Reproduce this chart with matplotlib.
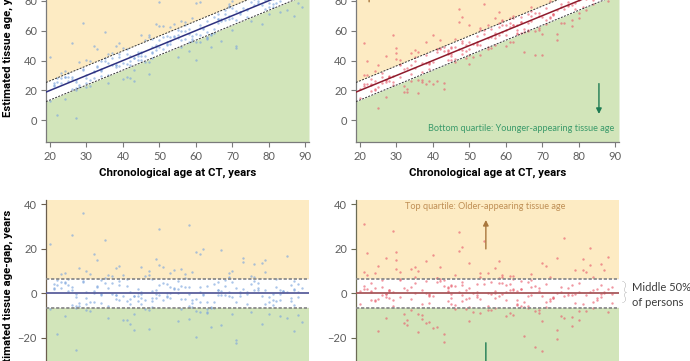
import matplotlib

matplotlib.use("Agg")
import matplotlib.pyplot as plt
import numpy as np

blue_age = [
    21, 34, 57, 72, 45, 88, 29, 63, 50, 39, 81, 24, 67, 55, 42, 76,
    31, 85, 60, 47, 23, 70, 36, 53, 79, 27, 64, 41, 58, 86, 33, 74,
    49, 22, 68, 38, 82, 56, 44, 61, 26, 77, 52, 35, 89, 65, 30, 48,
    71, 40, 84, 59, 25, 73, 46, 62, 37, 80, 54, 28, 69, 43, 87, 51,
    32, 75, 58, 20, 66, 45, 83, 39, 56, 24, 78, 63, 34, 50, 71, 87,
    42, 29, 67, 53, 80, 36, 60, 22, 74, 48, 85, 31, 57, 44, 69, 26,
    62, 38, 81, 52, 27, 76, 47, 65, 33, 88, 55, 41, 72, 23, 59, 79,
    46, 68, 30, 84, 51, 37, 64, 25, 77, 43, 61, 35, 86, 54, 28, 70,
    49, 82, 40, 66, 21, 58, 75, 32, 63, 45, 89, 27, 53, 71, 39, 60,
    36, 78, 50, 24, 67, 44, 83, 56, 30, 73, 42, 61, 87, 48, 34, 69,
    25, 48, 66, 83, 37, 59, 71, 30, 54, 79, 42, 22, 63, 87, 45, 34,
    68, 51, 27, 76, 40, 58, 85, 32, 61, 47, 73, 20, 56, 81, 38, 65,
    29, 52, 78, 44, 69, 24, 87, 57, 35, 62, 49, 83, 26, 70, 41, 55,
    80, 33, 64, 46, 74, 21, 58, 88, 39, 67, 50, 28, 76, 43, 60, 84,
    31, 53, 72, 36, 86, 47, 23, 66, 57, 41, 79, 30, 63, 52, 75, 27,
    45, 82, 34, 61, 48, 70, 38, 88, 26, 55, 69, 43, 77, 32, 59, 49,
]
blue_gap = [
    2.1, -4.3, 8.5, -1.2, 0.6, -9.8, 36.0, 3.4, -0.8, 12.4, -5.1, 4.7, -14.2, 1.9, -2.6, 7.3,
    -3.9, 0.4, 18.6, -7.7, 5.2, -1.5, -11.3, 2.8, 9.6, -0.3, -6.0, 3.1, 30.5, -2.2, 14.9, -4.8,
    1.3, -18.4, 5.9, -0.9, -3.4, 10.7, 0.2, -8.6, 26.0, 2.5, -1.8, 6.8, -12.9, 4.0, -4.9, 1.1,
    -22.5, 8.1, 0.7, -2.9, 3.8, 15.7, -6.9, -0.5, 4.4, -9.1, 2.0, 11.2, -1.1, -16.6, 5.5, -3.2,
    0.9, 7.9, -5.6, 22.3, 1.6, -0.2, -10.4, 3.6, -2.4, 5.1, 13.5, -7.2, 0.1, 29.0, -3.7, 1.8,
    -13.8, 4.9, -0.6, 9.2, -4.1, 2.3, -19.8, 6.1, 0.5, -2.0, 16.8, -8.0, 3.0, -1.3, 7.0, -5.3,
    20.1, -0.7, -3.0, 4.2, -25.4, 1.4, 10.0, -6.4, 2.7, -1.6, 5.7, -11.9, 0.3, 8.8, -4.5, 15.0,
    -2.8, 3.3, -7.5, 1.0, 12.0, -0.1, -15.3, 6.5, 4.5, -9.4, 0.8, 24.0, -3.5, 2.2, -5.8, 9.9,
    -1.9, 6.3, -12.2, 1.5, 4.1, -0.4, -8.3, 17.5, -4.0, 11.8, 2.6, -6.6, 0.0, -21.0, 5.3, -2.5,
    8.3, -1.0, 3.9, -10.0, 19.5, -3.6, 1.7, -7.0, 0.4, 14.0, -5.0, 2.9, -17.1, 6.6, -0.9, 9.0,
    1.2, -3.3, 5.0, -0.4, 7.9, -6.2, 2.4, -1.9, 10.3, -4.6, 0.8, 3.9, -8.8, 1.6, -2.3, 6.0,
    -0.9, 4.5, -5.7, 13.2, -1.4, 2.9, -10.9, 0.3, -3.8, 8.4, 1.9, -7.1, 3.4, -0.2, 11.5, -4.1,
    5.6, -1.1, -13.6, 2.0, 0.6, 9.0, -5.2, -2.6, 4.8, -0.7, 15.2, -3.0, 1.4, -9.5, 6.5, 0.0,
    -1.7, 3.2, -6.8, 7.7, -0.5, 2.6, -11.7, 4.2, -2.9, 0.9, 12.8, -4.4, 5.3, -1.3, -7.9, 1.0,
    8.7, -2.1, 0.4, -5.5, 3.6, -15.9, 2.2, -0.8, 6.9, -3.6, 1.7, 10.1, -8.2, 0.2, 4.0, -1.6,
    -4.9, 2.8, -0.3, 17.8, -6.0, 5.1, -2.4, 0.7, 3.0, -12.4, 7.4, -1.0, 1.3, -3.9, 9.4, -0.1,
]
red_age = [
    23, 61, 44, 78, 35, 52, 86, 29, 67, 40, 57, 21, 73, 48, 82, 33,
    59, 26, 70, 45, 88, 37, 63, 51, 30, 76, 42, 65, 24, 84, 55, 39,
    71, 47, 20, 62, 80, 34, 58, 27, 75, 43, 68, 53, 31, 87, 46, 64,
    22, 79, 38, 56, 72, 28, 83, 49, 66, 36, 60, 25, 77, 41, 89, 54,
    32, 69, 45, 81, 50, 23, 74, 37, 62, 85, 29, 57, 42, 70, 34, 78,
    47, 26, 64, 53, 88, 39, 59, 21, 72, 44, 80, 31, 66, 50, 27, 75,
    36, 61, 84, 48, 24, 69, 55, 40, 86, 33, 58, 73, 43, 22, 79, 63,
    52, 30, 68, 46, 82, 38, 60, 28, 76, 49, 35, 65, 87, 41, 54, 25,
    71, 57, 32, 83, 45, 67, 20, 74, 39, 62, 50, 89, 27, 56, 78, 43,
    64, 34, 81, 48, 70, 23, 59, 85, 37, 52, 29, 66, 44, 77, 31, 61,
    28, 53, 71, 39, 84, 46, 62, 24, 77, 35, 58, 88, 42, 67, 21, 50,
    73, 31, 60, 45, 82, 27, 55, 69, 38, 86, 48, 64, 23, 75, 41, 57,
    80, 33, 66, 52, 26, 71, 44, 87, 36, 59, 78, 49, 22, 63, 85, 40,
    54, 29, 74, 47, 68, 34, 81, 56, 25, 61, 43, 76, 51, 30, 65, 89,
    39, 72, 46, 83, 58, 24, 70, 37, 62, 27, 79, 53, 44, 86, 32, 67,
    48, 21, 74, 55, 35, 60, 41, 80, 57, 28, 69, 50, 84, 38, 63, 45,
]
red_gap = [
    -3.1, 7.6, 1.2, -10.8, 4.4, -0.7, 13.1, -5.5, 2.9, -15.6, 0.3, 9.4, -2.3, 21.0, -7.9, 1.7,
    -0.2, 5.8, -12.5, 3.5, 16.2, -4.6, 0.9, -8.4, 11.0, -1.4, 6.2, -19.2, 2.4, -3.8, 8.9, -0.6,
    -6.3, 27.5, 1.0, -9.7, 4.6, -2.7, 14.4, -11.1, 0.6, 3.2, -24.0, 7.1, -1.7, 10.3, -5.2, 2.0,
    18.0, -0.4, -13.4, 5.0, -3.3, 1.3, 12.7, -7.1, -1.0, 9.8, 3.7, -16.9, 0.2, 6.7, -4.2, 23.5,
    2.6, -8.9, -0.5, 15.3, -2.1, 4.8, -20.6, 1.5, 7.8, -3.0, 0.8, -6.7, 11.6, -1.2, 3.0, -14.7,
    19.0, -0.9, 5.4, -9.0, 1.9, -4.4, 8.0, 31.0, -2.6, 0.5, -11.8, 6.0, -5.9, 13.8, -0.3, 2.7,
    -17.5, 4.3, 1.4, -3.5, 9.1, -7.4, 0.0, 17.0, 3.6, -12.0, 6.9, -1.6, -22.0, 2.1, 10.6, -4.7,
    0.7, 14.8, -8.1, 3.3, -0.8, 5.6, -10.3, 1.6, 25.0, -2.4, 7.4, -6.1, 0.4, -15.0, 4.0, 12.3,
    -3.9, 1.1, -9.3, 20.4, -1.9, 8.6, -5.0, 0.1, -13.0, 6.4, 2.2, -0.1, 16.0, -7.6, 3.9, -18.3,
    1.8, 10.9, -4.9, 5.1, -26.0, 0.6, 7.2, -2.0, -11.4, 4.1, 28.0, -6.5, 2.5, -0.6, 9.5, -8.7,
    0.9, -2.7, 4.1, -0.1, -6.4, 8.2, 1.5, -3.6, 2.3, 11.9, -1.0, -8.5, 5.7, -0.6, 3.1, -12.6,
    -2.0, 6.6, 0.4, -4.8, 9.7, -1.5, -7.3, 2.5, 14.6, -0.3, 3.8, -5.6, 1.1, -10.1, 7.0, -2.2,
    0.5, -14.1, 5.2, -1.8, 2.8, 12.2, -3.4, 0.0, -9.2, 4.7, -0.9, 1.6, 8.0, -5.3, 2.0, -1.1,
    6.3, -3.2, -16.3, 0.8, 3.5, -7.7, 10.5, -0.5, -2.5, 1.4, 5.9, -11.2, 0.2, 18.5, -4.0, 2.7,
    -1.3, 7.5, -6.9, 0.6, 4.4, -2.8, 13.4, -9.9, 1.8, -0.2, -4.3, 9.0, 3.0, -1.7, -13.3, 6.1,
    -0.7, 2.1, 15.8, -5.8, 0.3, -3.1, 4.9, -8.0, 11.3, -1.9, 1.0, -6.2, 7.2, 0.1, -2.9, 3.7,
]

x_ticks = [20, 30, 40, 50, 60, 70, 80, 90]
age_ticks = [0, 20, 40, 60, 80]
gap_ticks = [-20, 0, 20, 40]
band = 6.4  # interquartile half-width of the age-gap

YELLOW = "#FDEBC3"
GREEN = "#D2E5BA"
AXIS_GREY = "#7a7a7a"
TICK_GREY = "#5e5e5e"
SANS = dict(family=["Lato", "DejaVu Sans"])
LABEL = dict(family=["Roboto", "DejaVu Sans"], weight="semibold", size=8.2, color="black")

W, H = 690, 361
fig = plt.figure(figsize=(W / 100, H / 100), dpi=100)


def px_axes(left, top, right, bottom):
    return fig.add_axes([left / W, 1 - bottom / H, (right - left) / W, (bottom - top) / H])


def style(ax, yticks, spine_col=AXIS_GREY):
    for s in ("top", "right"):
        ax.spines[s].set_visible(False)
    for s in ("left", "bottom"):
        ax.spines[s].set_color(spine_col)
        ax.spines[s].set_linewidth(0.9)
    ax.set_xticks(x_ticks)
    ax.set_yticks(yticks)
    ax.tick_params(length=3.5, width=0.8, color=spine_col, labelcolor=TICK_GREY,
                   labelsize=8, pad=3)
    for lab in ax.get_xticklabels() + ax.get_yticklabels():
        lab.set_family(SANS["family"])


def age_panel(ax, age, gap, dot, line):
    ax.set_xlim(18.9, 91)
    ax.set_ylim(-14.5, 105)
    xs = np.array(ax.get_xlim())
    ax.fill_between(xs, xs + band, 300, color=YELLOW, lw=0, zorder=0)
    ax.fill_between(xs, xs - band, -100, color=GREEN, lw=0, zorder=0)
    ax.scatter(age, np.add(age, gap), s=3, color=dot, alpha=0.65, lw=0, zorder=1)
    ax.plot(xs, xs, color=line, lw=1.1, zorder=3)
    for off in (band, -band):
        ax.plot(xs, xs + off, color="#333333", lw=0.7, ls=(0, (2.0, 1.4)), zorder=3)
    ax.set_xlim(18.9, 91)
    ax.set_ylim(-14.5, 105)
    style(ax, age_ticks)


def gap_panel(ax, age, gap, dot, line, spine_col):
    ax.set_xlim(18.9, 91)
    ax.set_ylim(-45, 42)
    ax.axhspan(band, 100, color=YELLOW, lw=0, zorder=0)
    ax.axhspan(-100, -band, color=GREEN, lw=0, zorder=0)
    ax.scatter(age, gap, s=3, color=dot, alpha=0.65, lw=0, zorder=1)
    ax.axhline(0, color=line, lw=1.3, zorder=3)
    for off in (band, -band):
        ax.axhline(off, color="#8a8a8a", lw=1.3, ls=(0, (1.8, 1.0)), zorder=3)
    ax.set_ylim(-45, 42)
    style(ax, gap_ticks, spine_col)
    ax.tick_params(axis="x", labelbottom=False)


ax_tl = px_axes(46, -36.7, 309, 142)
ax_tr = px_axes(356, -36.7, 619, 142)
ax_bl = px_axes(46, 199.85, 309, 393.4)
ax_br = px_axes(356, 199.85, 619, 393.4)

age_panel(ax_tl, blue_age, blue_gap, "#7EA6DE", "#2E3180")
age_panel(ax_tr, red_age, red_gap, "#E8606F", "#8E1B2C")
gap_panel(ax_bl, blue_age, blue_gap, "#7EA6DE", "#5B5F9C", "#6b5e4e")
gap_panel(ax_br, red_age, red_gap, "#E8606F", "#A8585C", "#6b6b55")

for ax in (ax_tl, ax_tr):
    ax.set_xlabel("Chronological age at CT, years", labelpad=4, **LABEL)

fig.text(8 / W, 1 - 117 / H, "Estimated tissue age, years", rotation=90,
         ha="center", va="bottom", **LABEL)
fig.text(8 / W, 1 - 210 / H, "Estimated tissue age-gap, years", rotation=90,
         ha="center", va="top", **LABEL)

# quartile annotations
BROWN = "#A9773D"
DKGREEN = "#1E7B53"
ax_tr.annotate("", xy=(22.5, 100), xytext=(22.5, 77.4),
               arrowprops=dict(arrowstyle="-|>", color=BROWN, lw=1.0), zorder=4)
ax_tr.annotate("", xy=(85.5, 2.4), xytext=(85.5, 26.4),
               arrowprops=dict(arrowstyle="-|>", color=DKGREEN, lw=1.0,
                               mutation_scale=8), zorder=4)
ax_tr.text(89.8, -5.3, "Bottom quartile: Younger-appearing tissue age", ha="right",
           va="center", color="#3A9A6A", size=6.6, zorder=4, **SANS)

ax_br.text(54.3, 38.9, "Top quartile: Older-appearing tissue age", ha="center",
           va="center", color="#BF8F55", size=6.6, zorder=4, **SANS)
ax_br.annotate("", xy=(54.5, 34.2), xytext=(54.5, 18.7),
               arrowprops=dict(arrowstyle="-|>", color=BROWN, lw=1.0,
                               mutation_scale=8), zorder=4)
ax_br.annotate("", xy=(54.5, -42), xytext=(54.5, -21),
               arrowprops=dict(arrowstyle="-|>", color=DKGREEN, lw=1.0), zorder=4)

tr = ax_br.get_yaxis_transform()
ax_br.text(1.022, 0, "}", transform=tr, ha="center", va="center", color="#666666",
           size=17, clip_on=False, family=["Lato", "DejaVu Sans"], weight="light")
ax_br.text(1.051, -0.8, "Middle 50%\nof persons", transform=tr, ha="left",
           va="center", color="#3c3c3c", size=8, linespacing=1.35, clip_on=False,
           **SANS)

fig.savefig("out.png", dpi=100)
